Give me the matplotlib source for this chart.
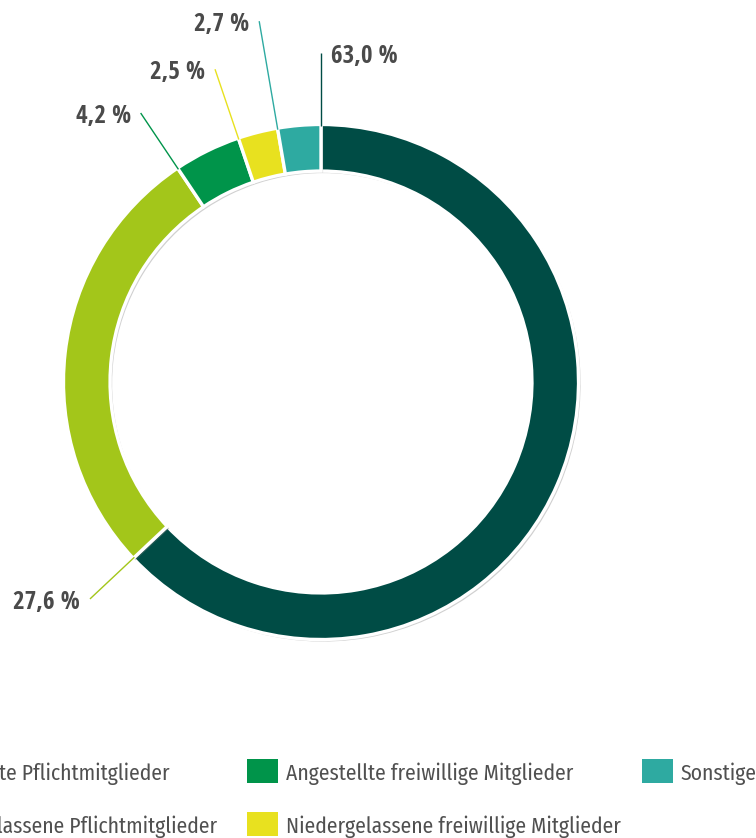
import numpy as np
import matplotlib
matplotlib.use("Agg")
import matplotlib.pyplot as plt
import matplotlib.patheffects as pe
from matplotlib.patches import Rectangle

# Mitgliederstruktur (Anteile in %)
categories = [
    "Angestellte Pflichtmitglieder",
    "Niedergelassene Pflichtmitglieder",
    "Angestellte freiwillige Mitglieder",
    "Niedergelassene freiwillige Mitglieder",
    "Sonstige",
]
shares = [63.0, 27.6, 4.2, 2.5, 2.7]
colors = ["#004c45", "#a3c61a", "#00944a", "#e8e11f", "#2eaaa1"]

# leader line end radius per slice (outer ring radius = 1) and label side
leader_len = [1.285, 1.238, 1.265, 1.29, 1.43]
label_right = [True, False, False, False, False]

W, H = 756, 838
CX, CY, R = 321, 382, 256
plt.rcParams["font.family"] = ["Open Sans Condensed", "DejaVu Sans"]
LEGEND_FONT = ["Fira Sans Condensed", "DejaVu Sans"]


def px(x, y):
    """pixel position (origin top left) -> data coords of the donut axes"""
    return (x - CX) / R, (CY - y) / R


fig = plt.figure(figsize=(W / 100, H / 100), dpi=100)
ax = fig.add_axes([0, 0, 1, 1])

wedges, _ = ax.pie(
    shares, colors=colors, startangle=90, counterclock=False, radius=1.006,
    wedgeprops=dict(width=0.182, edgecolor="white", linewidth=2.4),
)
for w in wedges:
    w.set_path_effects([
        pe.SimplePatchShadow(offset=(1.5, -1.5), shadow_rgbFace="#7a7a7a", alpha=0.35),
        pe.Normal(),
    ])
# pie() resets limits/aspect; 1 data unit = R pixels in both directions
ax.set_aspect("auto")
ax.set_xlim(-CX / R, (W - CX) / R)
ax.set_ylim(-(H - CY) / R, CY / R)
ax.axis("off")

# radial leader lines at the start edge of each slice, label beside the end
cum = np.concatenate([[0], np.cumsum(shares)[:-1]])
for val, c0, col, rl, right in zip(shares, cum, colors, leader_len, label_right):
    ang = np.deg2rad(90 - 360 * c0 / 100)
    x0, y0 = np.cos(ang), np.sin(ang)
    x1, y1 = rl * x0, rl * y0
    ax.plot([x0, x1], [y0, y1], color=col, lw=1.0, solid_capstyle="butt")
    txt = f"{val:.1f} %".replace(".", ",")
    ax.annotate(txt, xy=(x1, y1), xytext=(10 if right else -10, -10),
                textcoords="offset pixels", ha="left" if right else "right",
                va="baseline", fontsize=18, fontweight="bold", color="#4a4a4a")

# legend: three columns, two rows, first column runs off the left edge
leg_kw = dict(fontsize=15.5, fontweight="normal", color="#505050", family=LEGEND_FONT)
rows_y = [759, 812]
patch_w, patch_h = 31, 24
col_patch_x = [None, 247, 642]
columns = [[0, 1], [2, 3], [4]]

renderer = fig.canvas.get_renderer()
probe = [fig.text(0, 0, categories[i], **leg_kw) for i in columns[0]]
col0_w = max(t.get_window_extent(renderer).width for t in probe)
for t in probe:
    t.remove()
col_patch_x[0] = col_patch_x[1] - 30 - col0_w - 8 - patch_w

for ci, idx in enumerate(columns):
    for ri, i in enumerate(idx):
        x, y = col_patch_x[ci], rows_y[ri]
        ax.add_patch(Rectangle(px(x, y + patch_h), patch_w / R, patch_h / R,
                               facecolor=colors[i], edgecolor="none", clip_on=False))
        tx, ty = px(x + patch_w + 8, y + patch_h - 3.5)
        ax.text(tx, ty, categories[i], ha="left", va="baseline", clip_on=False,
                **leg_kw)

fig.savefig("out.png", dpi=100)
